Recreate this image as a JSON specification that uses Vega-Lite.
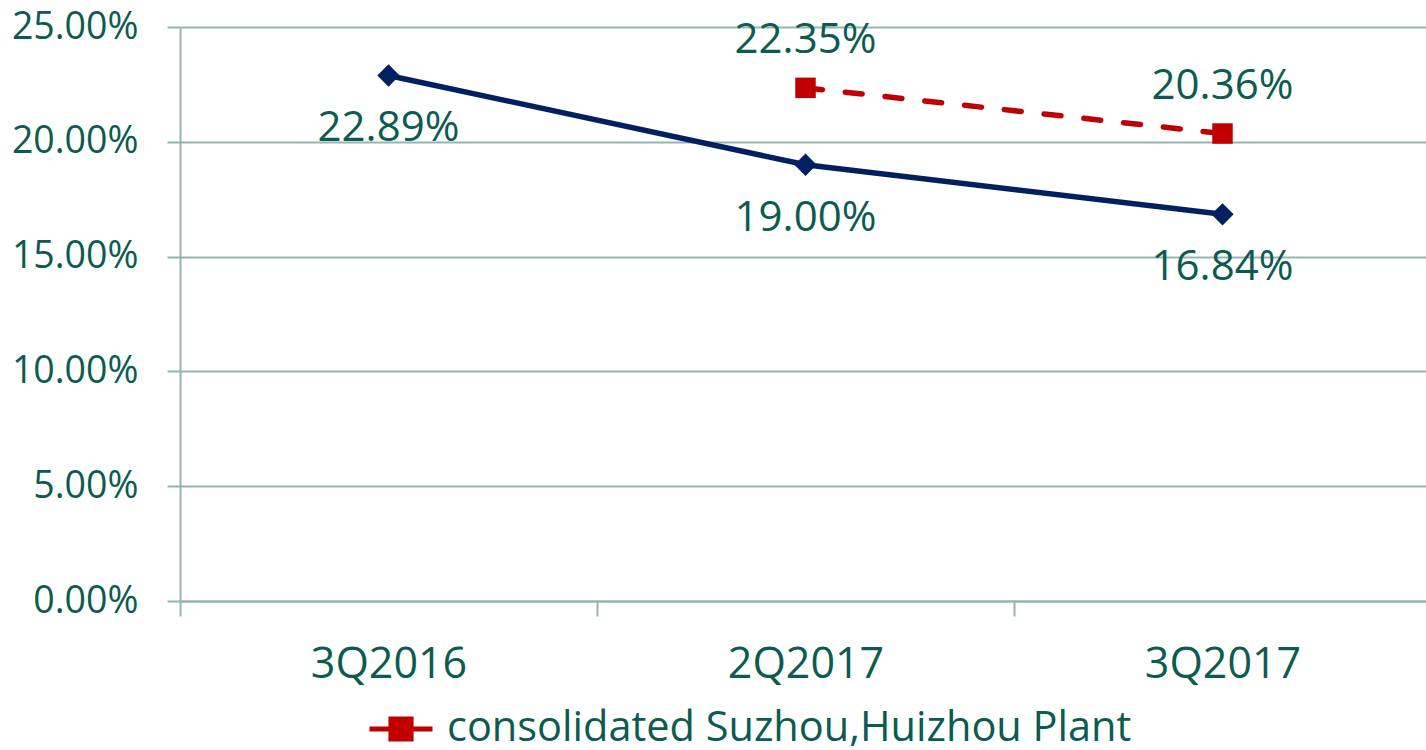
{
  "$schema": "https://vega.github.io/schema/vega-lite/v6.json",
  "autosize": "none",
  "padding": {"left": 180, "top": 27, "right": 0, "bottom": 149},
  "width": 1251,
  "height": 574,
  "background": "white",
  "config": {
    "view": {"stroke": null},
    "font": "Open Sans",
    "axis": {
      "domainColor": "#93B5B1",
      "domainWidth": 2,
      "tickColor": "#93B5B1",
      "tickWidth": 2,
      "gridColor": "#93B5B1",
      "gridWidth": 2,
      "labelColor": "#0B5B51",
      "labelFont": "Open Sans",
      "title": null
    }
  },
  "data": {
    "values": [
      {"q": "3Q2016", "series": "A", "v": 0.2289},
      {"q": "2Q2017", "series": "A", "v": 0.19},
      {"q": "3Q2017", "series": "A", "v": 0.1684},
      {"q": "2Q2017", "series": "consolidated Suzhou,Huizhou Plant", "v": 0.2235},
      {"q": "3Q2017", "series": "consolidated Suzhou,Huizhou Plant", "v": 0.2036}
    ]
  },
  "encoding": {
    "x": {
      "field": "q",
      "type": "nominal",
      "sort": ["3Q2016", "2Q2017", "3Q2017"],
      "scale": {"type": "band", "paddingInner": 0, "paddingOuter": 0},
      "axis": {
        "tickBand": "extent",
        "tickSize": 15,
        "labelPadding": 27,
        "labelFontSize": 43,
        "labelAngle": 0,
        "grid": false,
        "domain": true
      }
    },
    "y": {
      "field": "v",
      "type": "quantitative",
      "scale": {"domain": [0, 0.25]},
      "axis": {
        "values": [0, 0.05, 0.1, 0.15, 0.2, 0.25],
        "format": ".2%",
        "tickSize": 13,
        "labelPadding": 29,
        "labelFontSize": 37.5,
        "grid": true,
        "domain": true
      }
    }
  },
  "layer": [
    {
      "transform": [{"filter": "datum.series === 'A'"}],
      "mark": {"type": "line", "color": "#002060", "strokeWidth": 5.5},
      "encoding": {}
    },
    {
      "transform": [{"filter": "datum.series === 'A'"}],
      "mark": {"type": "point", "shape": "diamond", "size": 500, "filled": true, "color": "#002060", "opacity": 1},
      "encoding": {}
    },
    {
      "transform": [{"filter": "datum.series !== 'A'"}],
      "mark": {"type": "line", "strokeWidth": 5.5, "strokeDash": [17, 23], "strokeCap": "round"},
      "encoding": {
        "color": {
          "field": "series",
          "type": "nominal",
          "scale": {"range": ["#C00000"]},
          "legend": {
            "orient": "none",
            "legendX": 187,
            "legendY": 668,
            "title": null,
            "padding": 0,
            "symbolType": "M-1,0H1M-0.32,-0.32H0.32V0.32H-0.32Z",
            "symbolSize": 3969,
            "symbolStrokeWidth": 5,
            "symbolStrokeColor": "#C00000",
            "symbolFillColor": "#C00000",
            "symbolOpacity": 1,
            "labelFontSize": 41.5,
            "labelColor": "#0B5B51",
            "labelFont": "Open Sans",
            "labelOffset": 12,
            "labelLimit": 1000
          }
        }
      }
    },
    {
      "transform": [{"filter": "datum.series !== 'A'"}],
      "mark": {"type": "point", "shape": "square", "size": 420, "filled": true, "color": "#C00000", "opacity": 1},
      "encoding": {}
    },
    {
      "transform": [{"filter": "datum.series === 'A'"}],
      "mark": {"type": "text", "dy": 53, "baseline": "middle", "align": "center", "fontSize": 42, "color": "#0B5B51"},
      "encoding": {"text": {"field": "v", "type": "quantitative", "format": ".2%"}}
    },
    {
      "transform": [{"filter": "datum.series !== 'A'"}],
      "mark": {"type": "text", "dy": -48, "baseline": "middle", "align": "center", "fontSize": 42, "color": "#0B5B51"},
      "encoding": {"text": {"field": "v", "type": "quantitative", "format": ".2%"}}
    }
  ]
}
